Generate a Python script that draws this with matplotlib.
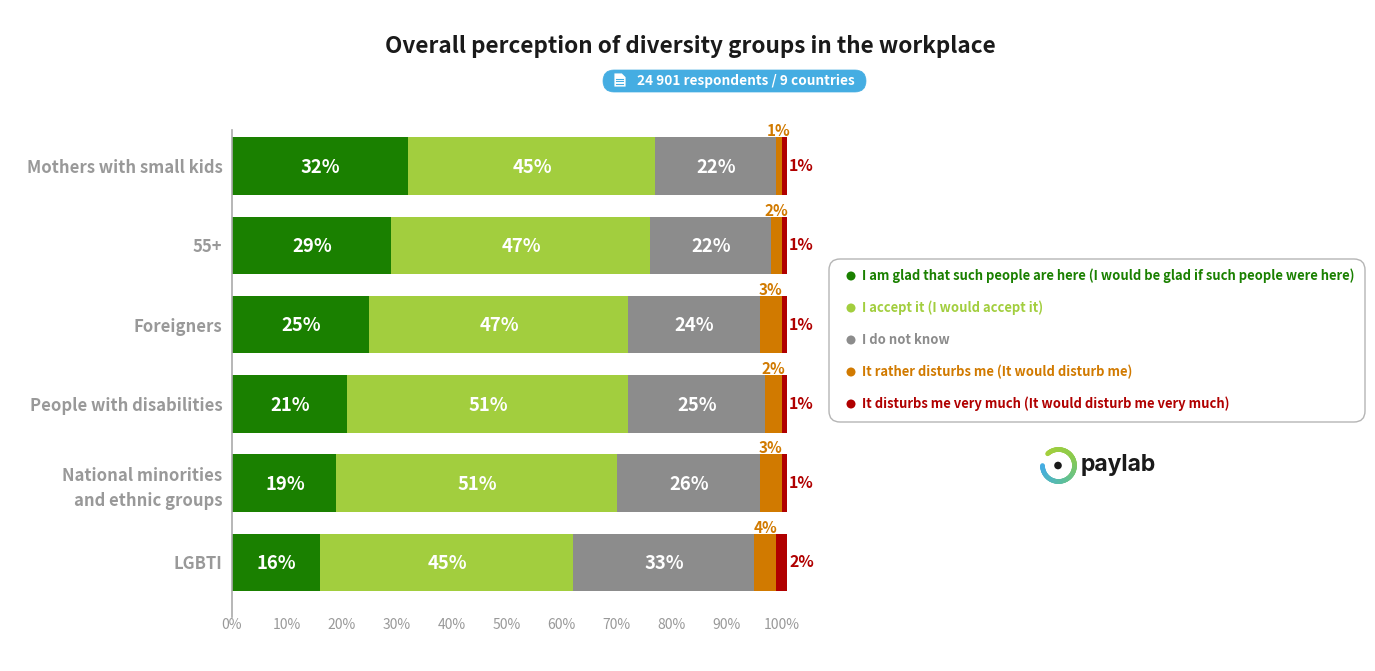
import numpy as np
import matplotlib
matplotlib.use('Agg')
import matplotlib.pyplot as plt
from matplotlib.patches import FancyBboxPatch, Polygon, Circle
from matplotlib.collections import LineCollection
from matplotlib.colors import LinearSegmentedColormap

plt.rcParams['font.family'] = ['Noto Sans CJK KR', 'DejaVu Sans']

categories = ['Mothers with small kids', '55+', 'Foreigners', 'People with disabilities',
              'National minorities\nand ethnic groups', 'LGBTI']
series_names = ['I am glad that such people are here (I would be glad if such people were here)',
                'I accept it (I would accept it)',
                'I do not know',
                'It rather disturbs me (It would disturb me)',
                'It disturbs me very much (It would disturb me very much)']
colors = ['#1a8000', '#a2ce3e', '#8c8c8c', '#d17a00', '#b00000']

# bar lengths as drawn (unrounded in the source, so they differ a bit from the labels)
glad = [32, 29, 25, 21, 19, 16]
accept = [45, 47, 47, 51, 51, 46]
dont_know = [22, 22, 24, 25, 26, 33]
rather = [1, 2, 4, 3, 4, 4]
very = [1, 1, 1, 1, 1, 2]

# printed labels
glad_lab = [32, 29, 25, 21, 19, 16]
accept_lab = [45, 47, 47, 51, 51, 45]
dont_know_lab = [22, 22, 24, 25, 26, 33]
rather_lab = [1, 2, 3, 2, 3, 4]
very_lab = [1, 1, 1, 1, 1, 2]

W, H = 1375, 671
fig = plt.figure(figsize=(W / 100, H / 100), dpi=100)

# main chart, placed in pixels
x0, x1, y_top, y_bot = 232, 787, 130, 617
ax = fig.add_axes([x0 / W, 1 - y_bot / H, (x1 - x0) / W, (y_bot - y_top) / H])
ypos = np.arange(len(categories))
left = np.zeros(len(categories))
vals = [glad, accept, dont_know, rather, very]
labs = [glad_lab, accept_lab, dont_know_lab, rather_lab, very_lab]
for v, c, n in zip(vals, colors, series_names):
    ax.barh(ypos, v, left=left, height=0.725, color=c, label=n)
    left = left + np.array(v)

left = np.zeros(len(categories))
for k, (v, l, c) in enumerate(zip(vals, labs, colors)):
    for i in ypos:
        mid = left[i] + v[i] / 2
        if k < 3:
            ax.annotate('%d%%' % l[i], (mid, i), xytext=(0.5, -1), textcoords='offset points',
                        ha='center', va='center', color='white', fontsize=13.3, fontweight='bold')
        elif k == 3:
            ax.annotate('%d%%' % l[i], (mid, i - 0.3625), xytext=(0, -1.5), textcoords='offset points',
                        ha='center', va='bottom', color=c, fontsize=11, fontweight='bold',
                        annotation_clip=False)
        else:
            ax.annotate('%d%%' % l[i], (101, i), xytext=(10.5, 0), textcoords='offset points',
                        ha='center', va='center', color=c, fontsize=11.5, fontweight='bold',
                        annotation_clip=False)
    left = left + np.array(v)

ax.set_xlim(0, 101)
ax.set_ylim(5.69, -0.455)
ax.set_xticks(np.arange(0, 101, 10))
ax.set_xticklabels(['%d%%' % t for t in range(0, 101, 10)], color='#999999', fontsize=10)
ax.set_yticks(ypos)
ax.set_yticklabels(categories, color='#999999', fontsize=12, fontweight='bold', linespacing=1.5)
ax.tick_params(axis='both', length=0)
ax.tick_params(axis='y', pad=7)
ax.tick_params(axis='x', pad=1)
for s in ['top', 'right', 'bottom']:
    ax.spines[s].set_visible(False)
ax.spines['left'].set_color('#aaaaaa')
ax.spines['left'].set_linewidth(1.2)

# overlay in pixel coordinates for title, badge, legend box and logo
ov = fig.add_axes([0, 0, 1, 1], zorder=-1)
ov.set_xlim(0, W)
ov.set_ylim(H, 0)
ov.axis('off')

ov.text(690, 46.5, 'Overall perception of diversity groups in the workplace', ha='center', va='center',
        fontsize=16.2, fontweight='bold', color='#1a1a1a')

# badge
ov.add_patch(FancyBboxPatch((603, 70), 263, 22, boxstyle='round,pad=0,rounding_size=11',
                            fc='#45ade2', ec='#45ade2', lw=0.5))
ov.text(746, 81, '24 901 respondents / 9 countries', ha='center', va='center',
        fontsize=9.8, fontweight='bold', color='white')
ov.add_patch(Polygon([[614, 73], [622, 73], [626, 77], [626, 87], [614, 87]], fc='white', ec='#45ade2', lw=0.6))
ov.plot([616.5, 623.5], [78.5, 78.5], color='#45ade2', lw=0.8)
ov.plot([616.5, 623.5], [81, 81], color='#45ade2', lw=0.8)
ov.plot([616.5, 623.5], [83.5, 83.5], color='#45ade2', lw=0.8)

# legend box
ov.add_patch(FancyBboxPatch((829, 259), 536, 163, boxstyle='round,pad=0,rounding_size=11',
                            fc='white', ec='#b5b5b5', lw=1))
for i, (n, c) in enumerate(zip(series_names, colors)):
    y = 276 + i * 32
    ov.add_patch(Circle((851, y), 4.5, fc=c, ec='none'))
    ov.text(862, y, n, ha='left', va='center', fontsize=9.37, fontweight='bold', color=c)

# logo
cmap = LinearSegmentedColormap.from_list('logo', ['#a5cf3c', '#8ccb4c', '#5fc09a', '#45ade2'])
t = np.radians(np.linspace(-133, 180, 120))
px = 1058.5 + 16 * np.cos(t)
py = 465.5 + 16 * np.sin(t)
pts = np.column_stack([px, py]).reshape(-1, 1, 2)
segs = np.concatenate([pts[:-1], pts[1:]], axis=1)
lc = LineCollection(segs, cmap=cmap, linewidth=3.4, capstyle='round')
lc.set_array(np.linspace(0, 1, 119))
ov.add_collection(lc)
ov.add_patch(Circle((1058, 465.5), 3.8, fc='#1a1a1a', ec='none'))
ov.text(1081, 465, 'paylab', ha='left', va='center', fontsize=16.5, fontweight='bold',
        color='#1a1a1a', family='Inter')

fig.savefig('out.png', dpi=100)
